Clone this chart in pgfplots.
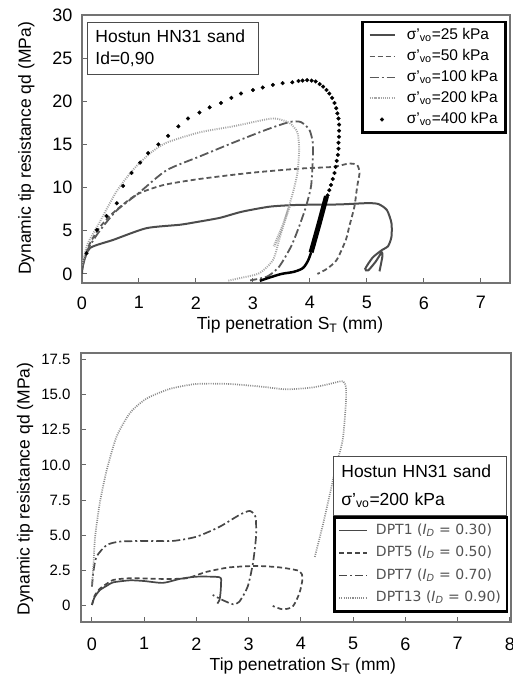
\documentclass[border=0pt]{standalone}
\usepackage{fontspec}
\setmainfont{Liberation Sans}
\newfontfamily\dejavu{DejaVu Sans}
\usepackage{pgfplots}
\pgfplotsset{compat=1.18}
\pgfplotsset{
  myax/.style={scale only axis, anchor=south west,
    axis line style={black!55,line width=1.3pt},
    tick style={black!60,line width=1pt}, major tick length=5pt,
    tick align=inside, tick pos=left,
    /pgf/number format/assume math mode=true,
    every axis label/.append style={font=\fontsize{17.5}{20}\selectfont},
  }
}
\begin{document}
\begin{tikzpicture}
\useasboundingbox (0pt,0pt) rectangle (512pt,675pt);
% ---------------- top panel ----------------
\begin{axis}[myax, at={(82pt,392pt)}, width=428pt, height=268pt,
  xmin=0, xmax=7.51, ymin=-1.05, ymax=30,
  xtick={0,1,...,7}, ytick={0,5,...,30},
  ticklabel style={font=\fontsize{18}{20}\selectfont},
  xticklabel style={yshift=-10pt},
  yticklabel style={xshift=-6pt},
  xlabel={Tip penetration S\textsubscript{T} (mm)},
  ylabel={Dynamic tip resistance qd (MPa)},
  xlabel style={at={(axis description cs:0.486,-0.157)}, anchor=center},
  ylabel style={at={(axis description cs:-0.13,0.502)}, anchor=center},
  legend style={at={(rel axis cs:0.993,0.978)}, anchor=north east, draw=black, line width=2.6pt, fill=white,
    font=\fontsize{15.5}{17}\selectfont, inner xsep=6pt, inner ysep=4pt, row sep=2.5pt,
    nodes={inner sep=2pt, text height=11pt, text depth=3.5pt}},
  legend cell align=left,
  legend image code/.code={\draw[mark repeat=2,mark phase=2,#1] plot coordinates {(0pt,0pt) (12.5pt,0pt) (25pt,0pt)}; \path (34pt,0pt);},
]
\addplot[black!70, line width=2pt, smooth, tension=0.4] coordinates {
(0,0) (0.02,1.2) (0.14,3.0) (0.55,3.95) (1.13,5.3) (1.72,5.7) (2.0,6.0) (2.42,6.5) (2.8,7.2) (3.3,7.8) (3.8,8.0) (4.5,8.05) (5.0,8.2) (5.2,8.1) (5.35,7.4) (5.43,5.9) (5.43,4.3) (5.37,3.2) (5.27,2.8) (5.1,1.9) (4.97,0.6) (5.02,0.4) (5.15,1.4) (5.26,2.5) (5.27,2.0) (5.22,0.3)};
\addlegendentry{σ’\textsubscript{vo}=25 kPa}
\addplot[black!65, line width=1.8pt, dash pattern=on 5pt off 3pt, smooth, tension=0.4] coordinates {
(0,0.5) (0.1,3.0) (0.3,5.3) (0.55,7.1) (0.96,9.2) (1.43,10.3) (2.06,11.0) (2.94,11.7) (3.81,12.2) (4.40,12.4) (4.69,12.8) (4.83,12.6) (4.87,11.7) (4.83,10.2) (4.78,7.8) (4.69,5.5) (4.63,3.95) (4.47,1.63) (4.3,0.6) (4.13,0.0)};
\addlegendentry{σ’\textsubscript{vo}=50 kPa}
\addplot[black!65, line width=1.8pt, dash pattern=on 9pt off 3pt on 2pt off 3pt, smooth, tension=0.4] coordinates {
(0,0.5) (0.1,2.8) (0.3,4.9) (0.6,7.3) (1.0,9.4) (1.48,12.0) (2.06,13.6) (2.65,15.2) (3.23,16.7) (3.64,17.6) (3.84,17.6) (3.99,16.7) (4.05,15.2) (4.05,13.3) (4.02,10.2) (3.93,7.8) (3.81,5.5) (3.67,3.2) (3.46,0.85) (3.25,-0.3) (2.95,-0.75)};
\addlegendentry{σ’\textsubscript{vo}=100 kPa}
\addplot[black!35, line width=1.9pt, dash pattern=on 1pt off 1.2pt, smooth, tension=0.4] coordinates {
(0,1.0) (0.1,3.5) (0.31,6.0) (0.6,9.5) (0.9,12.1) (1.2,14.0) (1.48,15.2) (2.06,16.4) (2.65,17.1) (3.23,17.9) (3.41,18.0) (3.64,17.5) (3.78,16.4) (3.81,14.4) (3.78,11.7) (3.70,9.4) (3.58,6.7) (3.46,3.95) (3.35,1.6) (3.11,0.08) (2.76,-0.5) (2.55,-0.8)};
\addlegendentry{σ’\textsubscript{vo}=200 kPa}
\addplot[only marks, mark=*, mark size=1.9pt, black, mark options={line width=0.3pt}] coordinates {
(0.08,2.4) (0.26,5.1) (0.43,6.7) (0.61,8.2) (0.72,10.2) (0.87,11.7) (1.02,12.9) (1.16,14.0) (1.34,15.0) (1.51,16.0) (1.69,17.1) (1.86,18.0) (2.06,18.7) (2.24,19.3) (2.44,19.8) (2.62,20.4) (2.79,20.9) (3.0,21.3) (3.17,21.6) (3.35,21.9) (3.52,22.1) (3.69,22.2) (3.80,22.35) (3.87,22.4) (3.95,22.45) (4.03,22.4) (4.1,22.3) (4.17,22.0) (4.23,21.7) (4.29,21.3) (4.34,20.9) (4.39,20.4) (4.43,19.8) (4.46,19.2) (4.48,18.6) (4.50,18.0) (4.51,17.3) (4.51,16.6) (4.51,15.9) (4.50,15.2) (4.50,14.5) (4.49,13.8) (4.47,13.1) (4.45,12.4) (4.43,11.7) (4.40,11.0) (4.37,10.3) (4.34,9.7) (4.31,9.1)};
\addlegendentry{σ’\textsubscript{vo}=400 kPa}
\addplot[black, line width=5pt, forget plot] coordinates {(4.29,9.0) (4.16,5.8) (4.02,2.5)};
\addplot[black, line width=2.5pt, smooth, tension=0.5, forget plot] coordinates {(4.02,2.5) (3.97,1.6) (3.88,0.7) (3.72,0.25) (3.5,0.0) (3.3,-0.4) (3.12,-0.8)};
\addplot[black!35, line width=2.6pt, dash pattern=on 1pt off 1pt, forget plot] coordinates {(3.64,7.8) (3.52,5.5) (3.37,3.2)};
\node[draw=black!70, line width=0.8pt, fill=white, anchor=north west, minimum width=171pt, minimum height=52pt,
  text width=155pt, inner xsep=8pt, align=left, font=\fontsize{17.5}{22}\selectfont]
  at (rel axis cs:0.0117,0.974) {Hostun HN31 sand\\Id=0,90};
\end{axis}
% ---------------- bottom panel ----------------
\begin{axis}[myax, at={(81pt,53pt)}, width=430pt, height=269pt,
  xmin=-0.21, xmax=8.02, ymin=-1.16, ymax=17.95,
  xtick={0,1,...,8}, ytick={0,2.5,5,7.5,10,12.5,15,17.5},
  yticklabels={0,2.5,5.0,7.5,10.0,12.5,15.0,17.5},
  xticklabel style={font=\fontsize{18}{20}\selectfont, yshift=-12pt},
  yticklabel style={font=\fontsize{15}{17}\selectfont, xshift=-7pt},
  xlabel={Tip penetration S\textsubscript{T} (mm)},
  ylabel={Dynamic tip resistance qd (MPa)},
  xlabel style={at={(axis description cs:0.516,-0.163)}, anchor=center},
  ylabel style={at={(axis description cs:-0.13,0.494)}, anchor=center},
  legend style={at={(rel axis cs:0.586,0.394)}, anchor=north west, draw=black, line width=2.6pt, fill=white,
    font=\dejavu\fontsize{14}{16}\selectfont\color{black!68}, inner xsep=4pt, inner ysep=4pt, row sep=4pt,
    nodes={inner sep=2pt, text height=11pt, text depth=3.5pt}},
  legend cell align=left,
  legend image code/.code={\draw[mark repeat=2,mark phase=2,#1] plot coordinates {(0pt,0pt) (14pt,0pt) (28pt,0pt)}; \path (34pt,0pt);},
]
\addplot[black!72, line width=1.7pt, smooth, tension=0.4] coordinates {
(0,0.05) (0.05,0.6) (0.15,1.1) (0.3,1.45) (0.41,1.66) (0.73,1.8) (1.0,1.75) (1.36,1.62) (1.68,1.9) (2.0,2.06) (2.44,2.02) (2.47,1.6) (2.46,0.9) (2.44,0.4) (2.40,0.15)};
\addlegendentry{DPT1 (\textit{I}\textsubscript{\textit{D}} = 0.30)}
\addplot[black!72, line width=1.7pt, dash pattern=on 5pt off 3pt, smooth, tension=0.4] coordinates {
(0,0.05) (0.05,0.7) (0.15,1.2) (0.3,1.6) (0.41,1.83) (0.73,1.95) (1.36,1.9) (1.81,1.95) (2.19,2.4) (2.63,2.72) (3.14,2.82) (3.59,2.72) (3.97,2.46) (4.03,1.94) (3.97,0.88) (3.84,-0.07) (3.65,-0.26) (3.46,-0.02)};
\addlegendentry{DPT5 (\textit{I}\textsubscript{\textit{D}} = 0.50)}
\addplot[black!72, line width=1.7pt, dash pattern=on 8pt off 3pt on 2pt off 3pt, smooth, tension=0.4] coordinates {
(0,1.35) (0.03,2.5) (0.09,3.5) (0.28,4.3) (0.53,4.55) (1.04,4.6) (1.55,4.6) (2.0,4.9) (2.44,5.6) (2.82,6.44) (3.02,6.73) (3.13,6.3) (3.14,4.9) (3.08,3.0) (2.98,1.35) (2.82,0.28) (2.70,0.1) (2.5,0.4) (2.31,0.76)};
\addlegendentry{DPT7 (\textit{I}\textsubscript{\textit{D}} = 0.70)}
\addplot[black!45, line width=1.7pt, dash pattern=on 1pt off 1.2pt, smooth, tension=0.4] coordinates {
(0,1.35) (0.03,3.0) (0.06,4.9) (0.15,7.3) (0.28,9.6) (0.47,12.0) (0.73,13.7) (1.04,14.7) (1.49,15.4) (2.0,15.75) (2.63,15.75) (3.27,15.55) (3.72,15.37) (4.22,15.5) (4.6,15.8) (4.8,15.95) (4.86,15.55) (4.86,14.4) (4.80,11.8) (4.67,9.9) (4.54,7.7) (4.41,5.6) (4.26,3.4)};
\addlegendentry{DPT13 (\textit{I}\textsubscript{\textit{D}} = 0.90)}
\node[draw=black!70, line width=0.8pt, fill=white, anchor=south west, minimum width=173pt, minimum height=59pt,
  text width=157pt, inner xsep=8pt, align=left, font=\fontsize{17.5}{28}\selectfont]
  at (rel axis cs:0.586,0.394) {Hostun HN31 sand\\σ’\textsubscript{vo}=200 kPa};
\end{axis}
\end{tikzpicture}
\end{document}
